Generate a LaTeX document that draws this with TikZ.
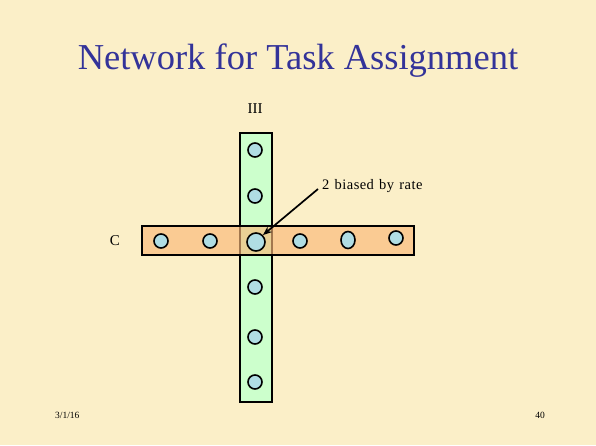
\documentclass[tikz,border=0pt]{standalone}
\usepackage{fontspec}
\setmainfont{Liberation Serif}
\newfontfamily\spacedfont[LetterSpace=3,WordSpace=1.3]{Liberation Serif}
\usetikzlibrary{arrows.meta,shapes.geometric}
\definecolor{bg}{RGB}{251,239,200}
\definecolor{titleblue}{RGB}{51,51,153}
\definecolor{greenfill}{RGB}{204,255,204}
\definecolor{orangefill}{RGB}{250,184,120}
\definecolor{dotfill}{RGB}{176,221,228}
\tikzset{
  dot/.style={circle,draw=black,line width=1.6pt,fill=dotfill,minimum size=14pt,inner sep=0pt},
  bigdot/.style={dot,minimum size=18pt},
  bar/.style={draw=black,line width=1.6pt},
}
\begin{document}
\begin{tikzpicture}[x=1pt,y=-1pt]
\fill[bg] (0,0) rectangle (596,445);
\useasboundingbox (0,0) rectangle (596,445);
\node[text=titleblue,font=\fontsize{36.5}{38}\selectfont] (title) at (298,61) {Network for Task Assignment};
% bars
\draw[bar,fill=greenfill] (240,133) rectangle (272,402);
\fill[orangefill,opacity=0.65] (142,226) rectangle (414,255);
\draw[bar] (142,226) rectangle (414,255);
% dots
\node[dot] (v1) at (255,150) {};
\node[dot] (v2) at (255,196) {};
\node[dot] (v4) at (255,287) {};
\node[dot] (v5) at (255,337) {};
\node[dot] (v6) at (255,382) {};
\node[dot] (h1) at (161,241) {};
\node[dot] (h2) at (210,241) {};
\node[bigdot] (c) at (256,242) {};
\node[dot] (h4) at (300,241) {};
\node[dot,ellipse,minimum width=14pt,minimum height=17pt] (h5) at (348,240) {};
\node[dot] (h6) at (396,238) {};
% labels
\node[font=\fontsize{15}{17}\selectfont] (lIII) at (255,109) {III};
\node[font=\fontsize{15}{17}\selectfont] (lC) at (115,241) {C};
\node[font={\spacedfont\fontsize{14.5}{16}\selectfont},anchor=west,inner sep=0pt] (lab) at (322,186) {2 biased by rate};
\coordinate (astart) at (318,189);
\draw[line width=1.7pt,-{Stealth[length=9pt,width=7pt]}] (astart) -- (c.north east);
% footer
\node[font=\fontsize{9.5}{11}\selectfont,anchor=west,inner sep=0pt] (date) at (55,415) {3/1/16};
\node[font=\fontsize{9.5}{11}\selectfont,anchor=east,inner sep=0pt] (page) at (545,415) {40};
\end{tikzpicture}
\end{document}
